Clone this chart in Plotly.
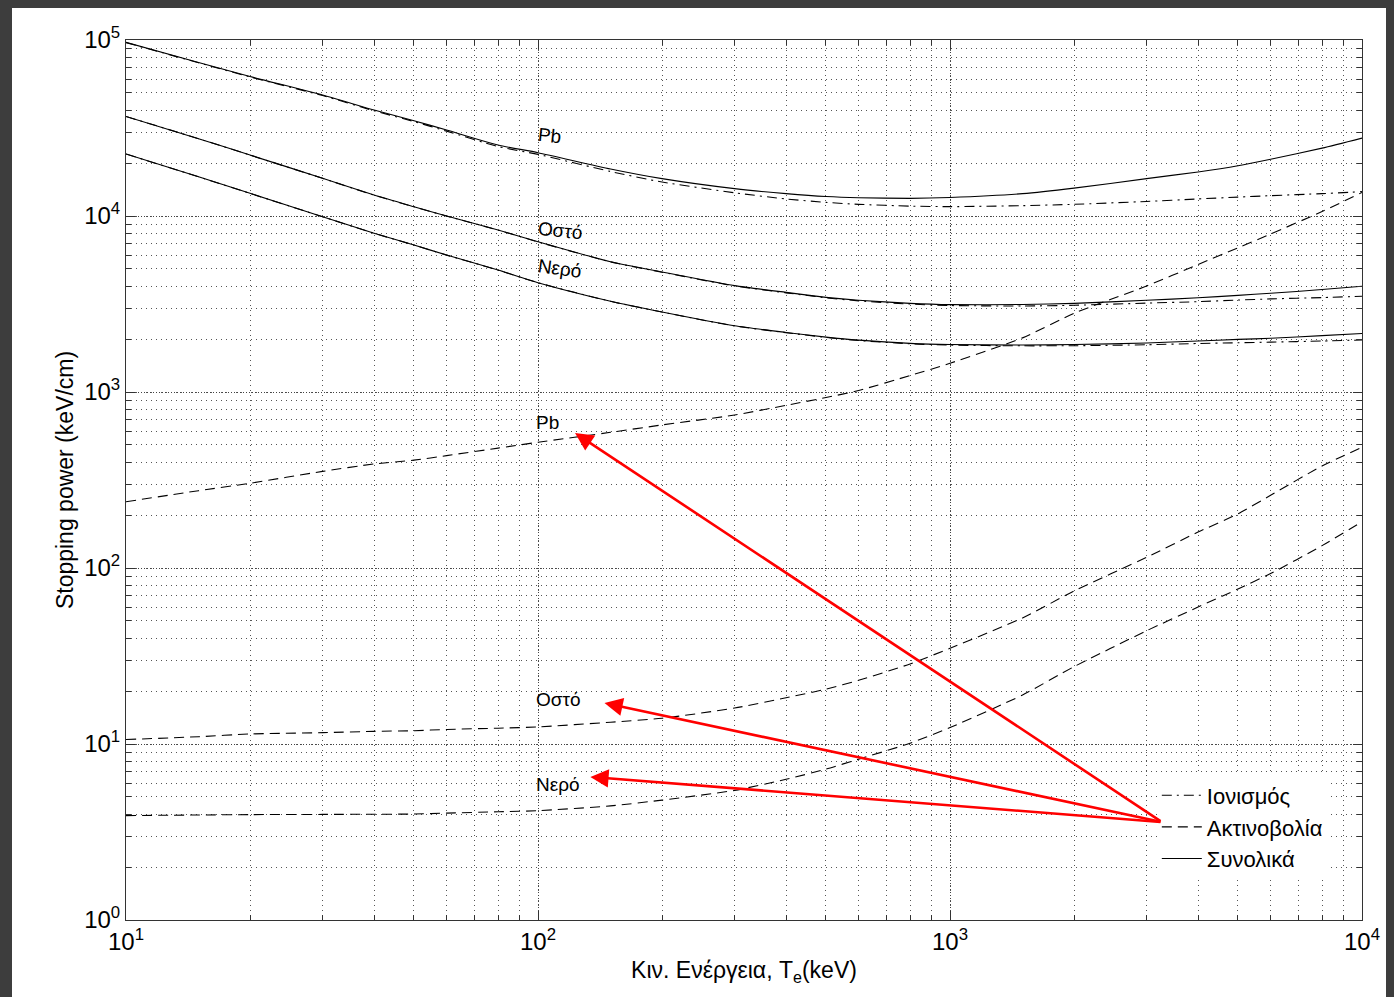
import math
import plotly.graph_objects as go

# ---------------- data ----------------
energy_keV = [10, 15, 20, 30, 40, 50, 60, 80, 100, 150, 200, 300, 400, 500, 600,
              800, 1000, 1500, 2000, 3000, 4000, 5000, 6000, 8000, 10000]

pb_total = [97000, 74500, 62000, 48700, 40000, 34800, 30800, 25300, 22900, 18500,
            16300, 14300, 13400, 12900, 12700, 12600, 12750, 13400, 14400, 16300,
            17800, 19300, 21000, 24300, 27700]
pb_ion = [96700, 74200, 61700, 48350, 39600, 34400, 30350, 24800, 22400, 17900,
          15600, 13550, 12500, 11950, 11650, 11380, 11300, 11450, 11650, 12100,
          12500, 12800, 13050, 13400, 13750]
pb_rad = [238, 275, 303, 354, 390, 410, 435, 480, 518, 590, 650, 740, 840, 930,
          1020, 1240, 1456, 2030, 2800, 4000, 5300, 6600, 7900, 10600, 13600]

bone_total = [36800, 27500, 22200, 16380, 13150, 11290, 10000, 8330, 7140, 5500,
              4810, 4020, 3680, 3450, 3320, 3190, 3135, 3140, 3190, 3320, 3430,
              3540, 3640, 3820, 3990]
bone_ion = [36790, 27490, 22190, 16370, 13140, 11280, 9990, 8320, 7128, 5486,
            4795, 4005, 3660, 3430, 3295, 3160, 3100, 3080, 3110, 3200, 3260,
            3330, 3380, 3440, 3500]
bone_rad = [10.6, 11.0, 11.4, 11.6, 11.8, 11.9, 12.1, 12.3, 12.5, 13.3, 14.0, 16.0,
            18.3, 20.5, 23.0, 28.5, 35.0, 52.0, 74.0, 115.0, 160.0, 203.0, 259.0,
            380.0, 485.0]

water_total = [22500, 16700, 13450, 9910, 7980, 6840, 6000, 4930, 4180, 3280, 2850,
               2380, 2180, 2050, 1970, 1890, 1860, 1850, 1860, 1900, 1950, 1990,
               2020, 2090, 2150]
water_ion = [22496, 16696, 13446, 9906, 7976, 6836, 5996, 4926, 4176, 3275, 2845,
             2374, 2173, 2043, 1961, 1879, 1847, 1830, 1832, 1855, 1886, 1905,
             1920, 1948, 1975]
water_rad = [3.92, 3.95, 3.97, 3.98, 3.99, 4.0, 4.05, 4.12, 4.18, 4.45, 4.8, 5.45,
             6.3, 7.2, 8.2, 10.1, 12.4, 19.0, 27.5, 44.0, 60.0, 76.0, 93.0, 134.0,
             183.0]

legend_names = ["Ιονισμός", "Ακτινοβολία", "Συνολικά"]
x_tick_vals = [10, 100, 1000, 10000]
x_tick_text = ["10<sup>1</sup>", "10<sup>2</sup>", "10<sup>3</sup>", "10<sup>4</sup>"]
y_tick_vals = [1, 10, 100, 1000, 10000, 100000]
y_tick_text = ["10<sup>0</sup>", "10<sup>1</sup>", "10<sup>2</sup>",
               "10<sup>3</sup>", "10<sup>4</sup>", "10<sup>5</sup>"]

# curve labels: (text, energy, value, angle)
curve_labels = [("Pb", 98, 28500, 6), ("Οστό", 98, 8300, 6), ("Νερό", 98, 5050, 8),
                ("Pb", 98, 670, 0), ("Οστό", 98, 17.8, 0), ("Νερό", 98, 5.85, 0)]
# red arrows: head (energy, value) and common tail
arrow_heads = [(123, 585), (145, 17.1), (134, 6.5)]
arrow_tail = (3270, 3.6)

# ---------------- styles ----------------
FONT = "Liberation Sans, Arial, sans-serif"
DASH_ION = "10px,5px,2px,5px"
DASH_RAD = "10px,6px"
PAGE_OFF = 8  # browser body margin

fig = go.Figure()

styles = [("ion", DASH_ION), ("rad", DASH_RAD), ("total", "solid")]
groups = {
    "water": {"ion": water_ion, "rad": water_rad, "total": water_total},
    "bone": {"ion": bone_ion, "rad": bone_rad, "total": bone_total},
    "pb": {"ion": pb_ion, "rad": pb_rad, "total": pb_total},
}

for i, (key, dash) in enumerate(styles):
    for mat, series in groups.items():
        fig.add_trace(go.Scatter(
            x=energy_keV, y=series[key], mode="lines",
            line=dict(color="black", width=1.1, dash=dash, shape="spline", smoothing=0.6),
            name=legend_names[i], showlegend=(mat == "water"),
            legendrank=i + 1, hoverinfo="skip",
        ))

# white page inside the dark frame (page coords -> paper coords)
fig.add_shape(type="rect", xref="paper", yref="paper",
              x0=(12 - 126) / 1236, x1=(1400 - 126) / 1236,
              y0=-(1000 - 920) / 880, y1=(920 - 7) / 880,
              fillcolor="white", line=dict(width=0), layer="below")

annotations = []
for text, e, v, ang in curve_labels:
    annotations.append(dict(x=math.log10(e), y=math.log10(v), xref="x", yref="y",
                            text=text, showarrow=False, xanchor="left", yanchor="middle",
                            textangle=ang, font=dict(family=FONT, size=19, color="black")))
for hx, hy in arrow_heads:
    annotations.append(dict(x=math.log10(hx), y=math.log10(hy), xref="x", yref="y",
                            ax=math.log10(arrow_tail[0]), ay=math.log10(arrow_tail[1]),
                            axref="x", ayref="y", text="", showarrow=True,
                            arrowhead=2, arrowsize=1.4, arrowwidth=2.6,
                            arrowcolor="#ff0000", standoff=0, startstandoff=0))

axis_common = dict(
    type="log", showline=True, linecolor="#333333", linewidth=1, mirror="ticks",
    ticks="inside", ticklen=9, tickcolor="#333333", tickwidth=1,
    showgrid=True, gridcolor="#444444", gridwidth=1, griddash="1px,2px",
    tickfont=dict(family=FONT, size=24, color="black"),
    zeroline=False,
)
minor_common = dict(ticks="inside", ticklen=5, tickcolor="#333333", showgrid=True,
                    gridcolor="#555555", gridwidth=1, griddash="1px,4px")

fig.update_layout(
    width=1394 - PAGE_OFF, height=997 - PAGE_OFF,
    paper_bgcolor="#3d3d3d", plot_bgcolor="white",
    margin=dict(l=126 - PAGE_OFF, r=32, t=40 - PAGE_OFF, b=77),
    font=dict(family=FONT, color="black"),
    xaxis=dict(axis_common, range=[1, 4], tickvals=x_tick_vals, ticktext=x_tick_text,
               minor=dict(minor_common, dtick="D1"),
               title=dict(text="Κιν. Ενέργεια, T<sub>e</sub>(keV)",
                          font=dict(family=FONT, size=23), standoff=8)),
    yaxis=dict(axis_common, range=[0, 5], tickvals=y_tick_vals, ticktext=y_tick_text,
               minor=dict(minor_common, dtick="D1"),
               title=dict(text="Stopping power (keV/cm)",
                          font=dict(family=FONT, size=23), standoff=4)),
    legend=dict(x=0.834, y=0.046, xanchor="left", yanchor="bottom",
                bgcolor="white", borderwidth=0,
                font=dict(family=FONT, size=22, color="black"),
                tracegroupgap=0, itemwidth=40),
    annotations=annotations,
    showlegend=True,
)

fig.write_html("out.html",
               post_script="document.body.style.background='#3d3d3d';")
